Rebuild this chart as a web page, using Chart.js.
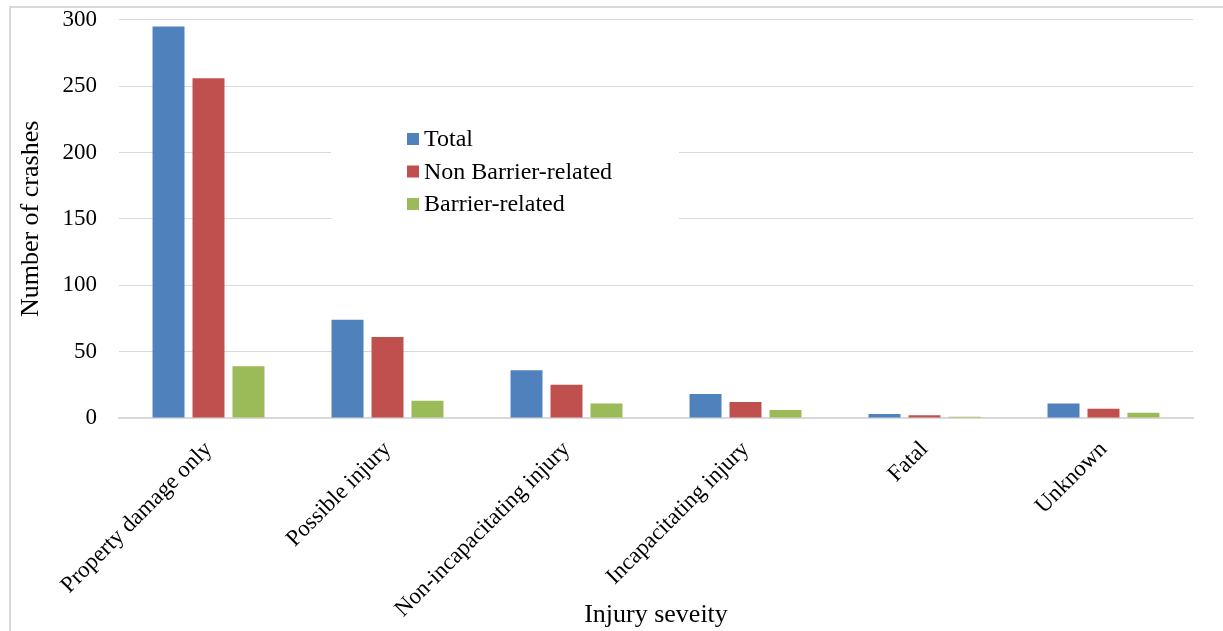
<!DOCTYPE html>
<html>
<head>
<meta charset="utf-8">
<script src="https://cdn.jsdelivr.net/npm/chart.js@4/dist/chart.umd.min.js"></script>
<style>
  html, body { margin: 0; padding: 0; background: #fff; }
  #wrap { position: relative; width: 1223px; height: 631px; }
  #frame { position: absolute; left: 9px; top: 6px; width: 1230px; height: 640px;
           border-left: 2px solid #d9d9d9; border-top: 2px solid #d9d9d9; box-sizing: border-box; pointer-events: none; }
  canvas { display: block; }
</style>
</head>
<body>
<div id="wrap">
  <canvas id="c" width="1223" height="631"></canvas>
  <div id="frame"></div>
</div>
<script>
// Crash counts by injury severity
const categories = ['Property damage only', 'Possible injury', 'Non-incapacitating injury',
                    'Incapacitating injury', 'Fatal', 'Unknown'];
const totalCrashes = [295, 74, 36, 18, 3, 11];
const nonBarrierCrashes = [256, 61, 25, 12, 2, 7];
const barrierCrashes = [39, 13, 11, 6, 1, 4];
const yTicks = [0, 50, 100, 150, 200, 250, 300];

const FONT = '"Liberation Serif", "Times New Roman", serif';

// Legend drawn inside the plot on a white panel
const insideLegend = {
  id: 'insideLegend',
  afterDraw(chart) {
    const ctx = chart.ctx;
    ctx.save();
    ctx.fillStyle = '#ffffff';
    ctx.fillRect(331, 118, 348, 118);
    ctx.font = '24px ' + FONT;
    ctx.textBaseline = 'middle';
    ctx.textAlign = 'left';
    chart.data.datasets.forEach((ds, i) => {
      const y = 139 + i * 32.5;
      ctx.fillStyle = ds.backgroundColor;
      ctx.fillRect(407, y - 6, 12, 12);
      ctx.fillStyle = '#000';
      ctx.fillText(ds.label, 424, y + 1);
    });
    ctx.restore();
  }
};

new Chart(document.getElementById('c'), {
  type: 'bar',
  data: {
    labels: categories,
    datasets: [
      { label: 'Total', data: totalCrashes, backgroundColor: '#4F81BD' },
      { label: 'Non Barrier-related', data: nonBarrierCrashes, backgroundColor: '#C0504D' },
      { label: 'Barrier-related', data: barrierCrashes, backgroundColor: '#9BBB59' }
    ]
  },
  options: {
    responsive: false,
    animation: false,
    devicePixelRatio: 1,
    layout: { padding: { left: 12, top: 0, right: 30, bottom: 0 } },
    datasets: { bar: { categoryPercentage: 0.67, barPercentage: 0.8 } },
    plugins: {
      legend: { display: false },
      tooltip: { enabled: false }
    },
    scales: {
      x: {
        grid: { display: false, drawTicks: false },
        border: { display: true, color: '#d9d9d9', width: 2 },
        ticks: {
          color: '#000', font: { family: FONT, size: 23 },
          maxRotation: 45, minRotation: 45, padding: 18, autoSkip: false
        },
        title: {
          display: true, text: 'Injury seveity', color: '#000',
          font: { family: FONT, size: 26 }, padding: { top: 0, bottom: 0 }
        },
        afterFit(scale) { scale.height = 631 - 418; }
      },
      y: {
        min: 0, max: 300,
        afterBuildTicks(scale) { scale.ticks = yTicks.map(v => ({ value: v })); },
        grid: { color: '#d9d9d9', lineWidth: 1, drawTicks: true, tickLength: 16, tickColor: 'rgba(0,0,0,0)' },
        border: { display: false },
        ticks: { color: '#000', font: { family: FONT, size: 23 }, padding: 6 },
        title: {
          display: true, text: 'Number of crashes', color: '#000',
          font: { family: FONT, size: 26 }, padding: { top: 4, bottom: 0 }
        },
        afterFit(scale) { scale.width = 119 - 12; }
      }
    }
  },
  plugins: [insideLegend]
});
</script>
</body>
</html>
